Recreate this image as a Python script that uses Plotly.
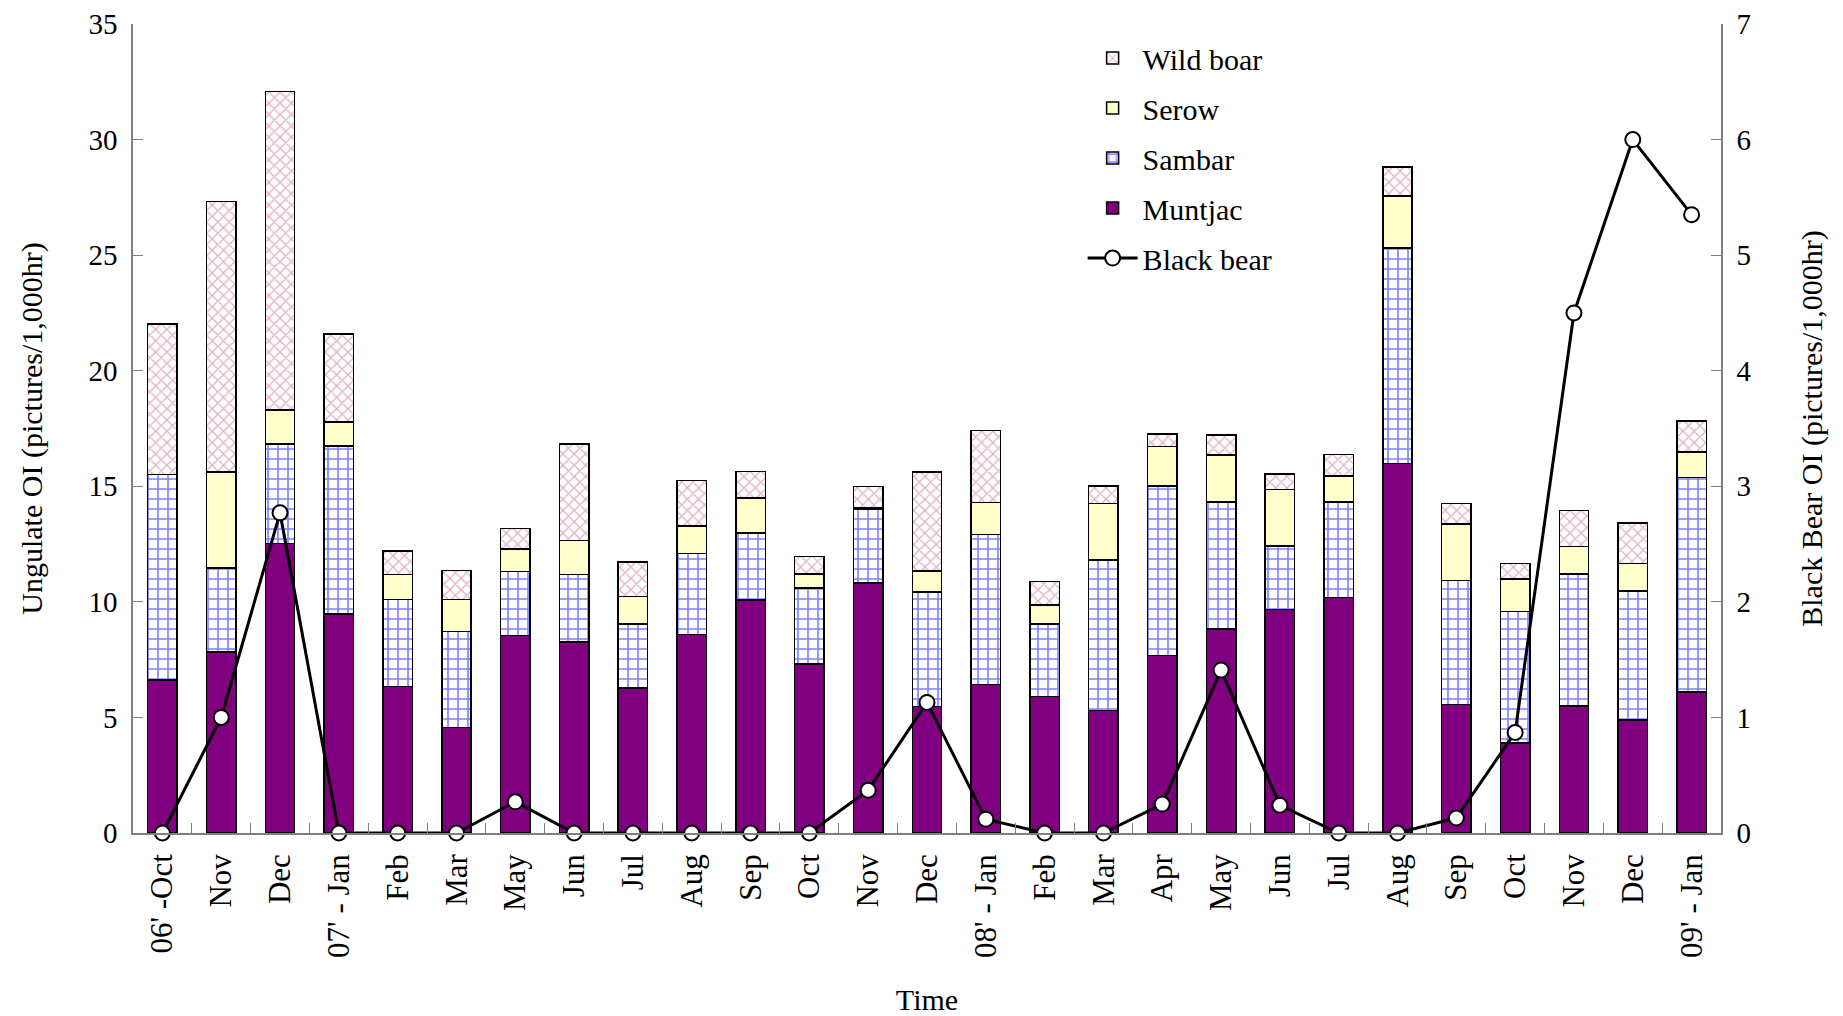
import plotly.graph_objects as go

# ---- data ----
labels = ["06' -Oct", "Nov", "Dec", "07' - Jan", "Feb", "Mar", "May", "Jun", "Jul",
          "Aug", "Sep", "Oct", "Nov", "Dec", "08' - Jan", "Feb", "Mar", "Apr", "May",
          "Jun", "Jul", "Aug", "Sep", "Oct", "Nov", "Dec", "09' - Jan"]

muntjac = [6.62, 7.83, 12.52, 9.47, 6.34, 4.56, 8.55, 8.27, 6.27, 8.58, 10.07, 7.31, 10.82,
           5.47, 6.42, 5.90, 5.29, 7.67, 8.83, 9.67, 10.19, 15.99, 5.55, 3.90, 5.49, 4.89, 6.10]
sambar = [8.88, 3.64, 4.30, 7.28, 3.77, 4.15, 2.77, 2.91, 2.77, 3.51, 2.92, 3.28, 3.18,
          4.96, 6.50, 3.14, 6.52, 7.34, 5.49, 2.75, 4.13, 9.31, 5.37, 5.68, 5.72, 5.57, 9.29]
serow = [0.0, 4.14, 1.49, 1.04, 1.07, 1.40, 0.96, 1.47, 1.19, 1.19, 1.50, 0.62, 0.05,
         0.91, 1.37, 0.83, 2.45, 1.72, 2.03, 2.44, 1.13, 2.26, 2.44, 1.40, 1.19, 1.21, 1.10]
wild_boar = [6.52, 11.71, 13.77, 3.79, 1.03, 1.25, 0.90, 4.17, 1.50, 1.96, 1.14, 0.75, 0.95,
             4.27, 3.12, 1.02, 0.75, 0.54, 0.87, 0.67, 0.92, 1.25, 0.90, 0.67, 1.55, 1.75, 1.34]
black_bear = [0, 1.0, 2.77, 0, 0, 0, 0.27, 0, 0, 0, 0, 0, 0.37, 1.13, 0.12, 0, 0, 0.25,
              1.41, 0.24, 0, 0, 0.13, 0.87, 4.50, 6.0, 5.35]

left_ticks = [0, 5, 10, 15, 20, 25, 30, 35]
right_ticks = [0, 1, 2, 3, 4, 5, 6, 7]

x = list(range(len(labels)))
FONT = "Liberation Serif, Times New Roman, serif"
AX = "#7f7f7f"

fig = go.Figure()
outline = dict(color="black", width=1.5)

fig.add_trace(go.Bar(x=x, y=muntjac, name="Muntjac", legendrank=4, legendgroup="d",
                     marker=dict(color="#800080", line=outline)))
fig.add_trace(go.Bar(x=x, y=sambar, name="Sambar", legendrank=3, legendgroup="c",
                     marker=dict(color="white", line=outline,
                                 pattern=dict(shape="+", fgcolor="#0000ff", bgcolor="white",
                                              fillmode="overlay", size=10, solidity=0.3))))
fig.add_trace(go.Bar(x=x, y=serow, name="Serow", legendrank=2, legendgroup="b",
                     marker=dict(color="#ffffcc", line=outline)))
fig.add_trace(go.Bar(x=x, y=wild_boar, name="Wild boar", legendrank=1, legendgroup="a",
                     marker=dict(color="white", line=outline,
                                 pattern=dict(shape="x", fgcolor="#c0608a", bgcolor="white",
                                              fillmode="overlay", size=8, solidity=0.3))))
fig.add_trace(go.Scatter(x=x, y=black_bear, name="Black bear", yaxis="y2", legendrank=5,
                         legendgroup="e", mode="lines+markers", cliponaxis=False,
                         line=dict(color="black", width=3),
                         marker=dict(symbol="circle", size=15, color="white",
                                     line=dict(color="black", width=2))))

# page body adds an 8px offset, so the figure is sized 8px smaller
fig.update_layout(
    width=1835, height=1008,
    barmode="stack", bargap=0.5,
    plot_bgcolor="white", paper_bgcolor="white",
    font=dict(family=FONT, size=30, color="black"),
    margin=dict(l=125, r=122, t=16, b=183),
    showlegend=True,
    legend=dict(x=0.598, y=0.99, xanchor="left", yanchor="top",
                font=dict(family=FONT, size=30), bgcolor="rgba(0,0,0,0)",
                tracegroupgap=8, traceorder="grouped", itemwidth=50),
    xaxis=dict(range=[-0.5, len(labels) - 0.5], tickmode="array", tickvals=x,
               ticktext=labels, tickangle=-90, ticks="", showline=True, linecolor=AX,
               linewidth=1.5, showgrid=False, zeroline=False, automargin=False,
               ticklabeloverflow="allow",
               tickfont=dict(family=FONT, size=31), ticklabelstandoff=7,
               minor=dict(tickmode="array", tickvals=[i + 0.5 for i in x[:-1]],
                          ticks="inside", ticklen=10, tickcolor=AX, tickwidth=1.2,
                          showgrid=False),
               title=dict(text="Time", font=dict(family=FONT, size=30), standoff=33)),
    yaxis=dict(range=[0, 35], tickmode="array", tickvals=left_ticks, ticks="inside",
               ticklen=10, tickcolor=AX, showline=True, linecolor=AX, linewidth=1.5,
               showgrid=False, zeroline=False, tickfont=dict(family=FONT, size=29),
               ticklabelstandoff=8, automargin=False, ticklabeloverflow="allow",
               title=dict(text="Ungulate OI (pictures/1,000hr)",
                          font=dict(family=FONT, size=30), standoff=37)),
    yaxis2=dict(range=[0, 7], tickmode="array", tickvals=right_ticks, ticks="inside",
                ticklen=10, tickcolor=AX, overlaying="y", side="right", showline=True,
                linecolor=AX, linewidth=1.5, showgrid=False, zeroline=False,
                tickfont=dict(family=FONT, size=29), ticklabelstandoff=8, automargin=False,
                ticklabeloverflow="allow",
                title=dict(text="Black Bear OI (pictures/1,000hr)",
                           font=dict(family=FONT, size=30), standoff=50)),
)

fig.write_html("out.html")
